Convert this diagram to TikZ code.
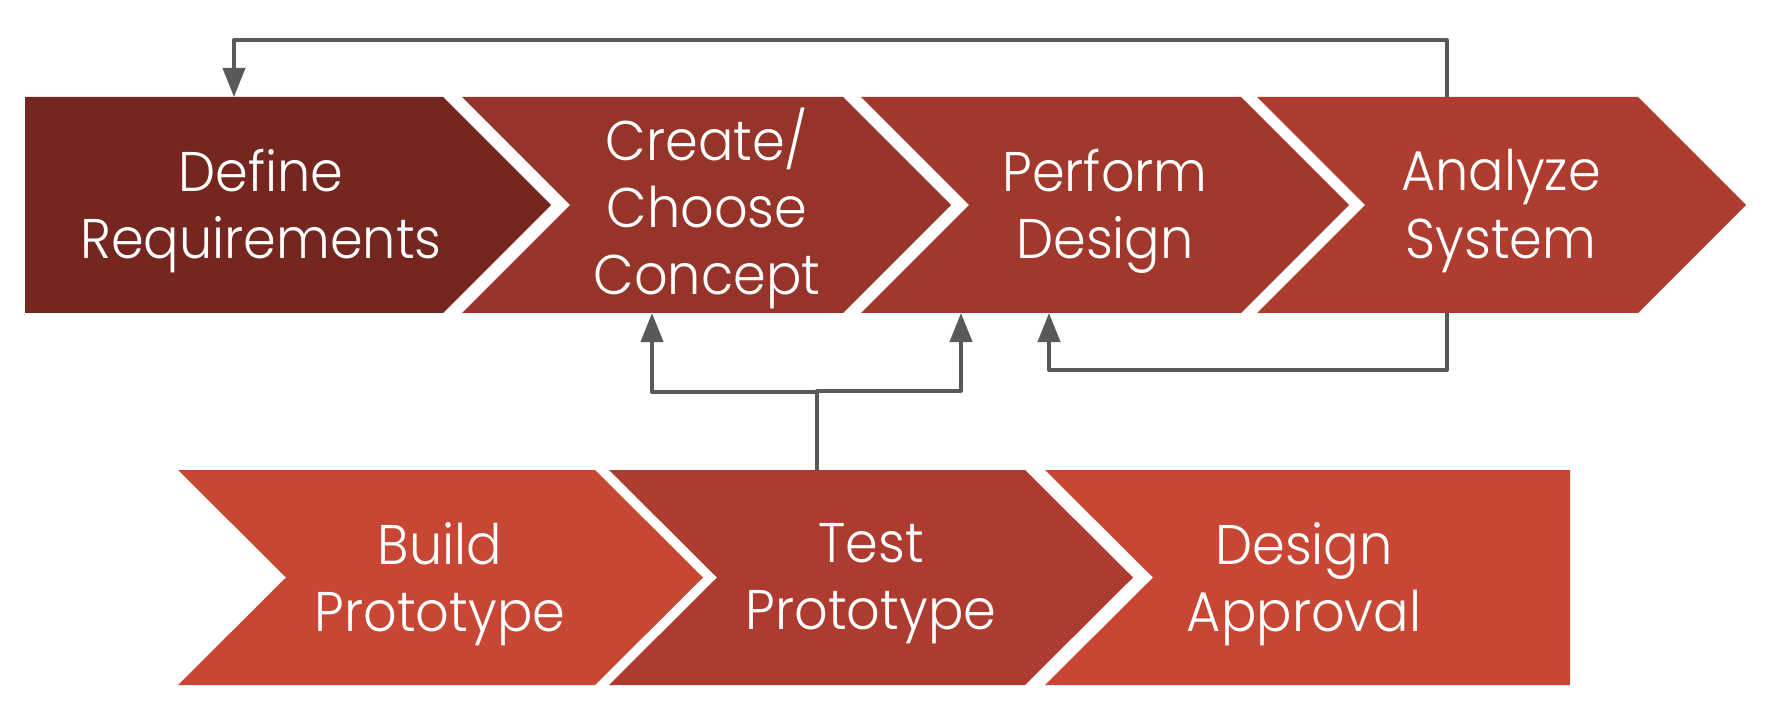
\documentclass[tikz,border=0pt]{standalone}
\usepackage{fontspec}
\setmainfont{Poppins}[UprightFont=* Light, FakeStretch=0.94]
\usetikzlibrary{arrows.meta}
\definecolor{cDef}{HTML}{74261F}
\definecolor{cCre}{HTML}{97342A}
\definecolor{cPer}{HTML}{A2372C}
\definecolor{cAna}{HTML}{AE3C2F}
\definecolor{cBui}{HTML}{C84634}
\definecolor{cTes}{HTML}{AE3B2F}
\definecolor{cApp}{HTML}{C84634}
\definecolor{cLine}{HTML}{595959}
\tikzset{
  lbl/.style={text=white, align=center, inner sep=0pt, font=\fontsize{15.9}{19.06}\selectfont},
  conn/.style={draw=cLine, line width=1.15pt, line join=round, -{Triangle[length=2.9mm,width=2.2mm]}},
}
\begin{document}
\begin{tikzpicture}[x=0.01cm,y=-0.01cm]
\useasboundingbox (0,0) rectangle (1774,722);
% top row
\fill[cDef] (25,97) -- (443,97) -- (551,205) -- (443,313) -- (25,313) -- cycle;
\fill[cCre] (462,97) -- (843,97) -- (951,205) -- (843,313) -- (462,313) -- (570,205) -- cycle;
\fill[cPer] (861,97) -- (1241,97) -- (1349,205) -- (1241,313) -- (861,313) -- (969,205) -- cycle;
\fill[cAna] (1257,97) -- (1638,97) -- (1746,205) -- (1638,313) -- (1257,313) -- (1365,205) -- cycle;
% bottom row
\fill[cBui] (178,470) -- (595,470) -- (703,577.5) -- (595,685) -- (178,685) -- (286,577.5) -- cycle;
\fill[cTes] (609,470) -- (1025,470) -- (1133,577.5) -- (1025,685) -- (609,685) -- (717,577.5) -- cycle;
\fill[cApp] (1045,470) -- (1570,470) -- (1570,685) -- (1045,685) -- (1153,577.5) -- cycle;
% labels
\node[lbl] (define) at (261,211) {Define\\Requirements};
\node[lbl] (create) at (707,208) {Create/\\Choose\\Concept};
\node[lbl] (perform) at (1105,211) {Perform\\Design};
\node[lbl] (analyze) at (1501,211) {Analyze\\System};
\node[lbl] (build) at (440,584) {Build\\Prototype};
\node[lbl] (test) at (871,584) {Test\\Prototype};
\node[lbl] (approval) at (1304,584) {Design\\Approval};
% connector anchors
\coordinate (anaT) at (1447,97);
\coordinate (anaB) at (1447,313);
\coordinate (defT) at (234,97);
\coordinate (perB) at (1049,313);
\coordinate (perB2) at (961,313);
\coordinate (creB) at (652,313);
\coordinate (tesT) at (817,470);
% connectors
\draw[conn] (anaT) -- ++(0,-57) -| (defT);
\draw[conn] (anaB) -- ++(0,57) -| (perB);
\draw[conn] (tesT) -- ++(0,-78) -| (creB);
\draw[conn] (tesT) -- ++(0,-79) -| (perB2);
\end{tikzpicture}
\end{document}
